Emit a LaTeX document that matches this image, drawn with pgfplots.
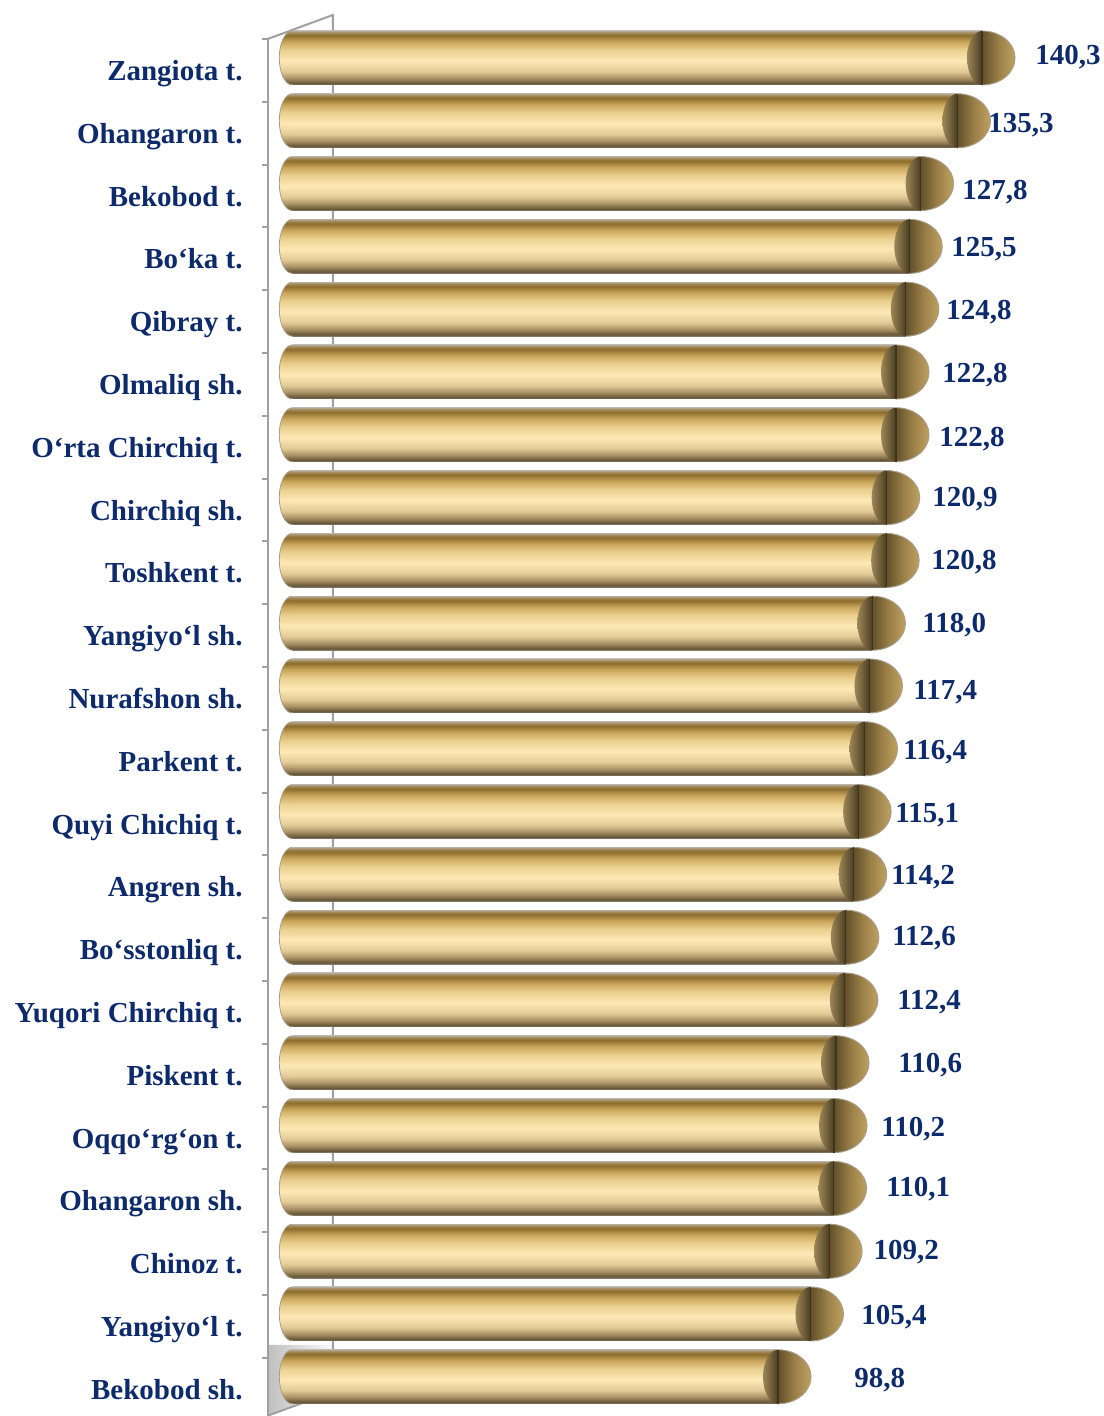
\documentclass[border=0pt]{standalone}
\usepackage{pgfplots}
\pgfplotsset{compat=1.18}
\usepackage{pgfplotstable}
\usepackage{fontspec}
\setmainfont{Liberation Serif}
\definecolor{navy}{HTML}{0D2B6B}
\definecolor{axgray}{HTML}{A0A0A0}
\definecolor{rimgray}{HTML}{A89E8A}
\definecolor{g0}{HTML}{8A8070}
\definecolor{g1}{HTML}{655637}
\definecolor{g2}{HTML}{A58E62}
\definecolor{g3}{HTML}{E2CA96}
\definecolor{g4}{HTML}{FDE9B6}
\definecolor{g5}{HTML}{EACF8E}
\definecolor{g6}{HTML}{CAA65C}
\definecolor{g7}{HTML}{8D6D2C}
\definecolor{g8}{HTML}{A48A5A}
\definecolor{g9}{HTML}{B4AA96}
\definecolor{cr1}{HTML}{9C8656}
\definecolor{cr2}{HTML}{4A3E22}
\definecolor{fc1}{HTML}{62502A}
\definecolor{fc2}{HTML}{9A7F47}
\definecolor{fc3}{HTML}{BFA060}
\definecolor{dkline}{HTML}{3E3420}
\pgfdeclareverticalshading{goldbar}{100bp}{color(0bp)=(g0); color(25bp)=(g0); color(26.5bp)=(g1); color(31bp)=(g2); color(37.5bp)=(g3); color(47.5bp)=(g4); color(57.5bp)=(g5); color(65bp)=(g6); color(71bp)=(g7); color(73.5bp)=(g8); color(75bp)=(g9); color(100bp)=(g9)}
\pgfdeclarehorizontalshading{cresc}{100bp}{color(0bp)=(cr1); color(25bp)=(cr1); color(75bp)=(cr2); color(100bp)=(cr2)}
\pgfdeclarehorizontalshading{face}{100bp}{color(0bp)=(fc1); color(25bp)=(fc1); color(50bp)=(fc2); color(75bp)=(fc3); color(100bp)=(fc3)}
\pgfdeclareplotmark{capL}{%
  \pgfscope
  \pgfpathmoveto{\pgfqpoint{0pt}{13.5pt}}%
  \pgfpatharc{90}{270}{6.5pt and 13.5pt}%
  \pgfpathclose
  \pgfshadepath{goldbar}{0}%
  \pgfusepath{}%
  \endpgfscope
  \pgfscope
  \pgfsetstrokecolor{rimgray}\pgfsetlinewidth{0.4pt}%
  \pgfpathmoveto{\pgfqpoint{0pt}{13.5pt}}%
  \pgfpatharc{90}{270}{6.5pt and 13.5pt}%
  \pgfusepath{stroke}%
  \endpgfscope
}
\pgfdeclareplotmark{capR}{%
  \pgfscope
  \pgfpathmoveto{\pgfqpoint{0pt}{13.5pt}}%
  \pgfpatharc{90}{270}{7.5pt and 13.5pt}%
  \pgfpathclose
  \pgfshadepath{cresc}{0}%
  \pgfusepath{}%
  \endpgfscope
  \pgfscope
  \pgfpathmoveto{\pgfqpoint{0pt}{-13.5pt}}%
  \pgfpatharc{-90}{90}{16.5pt and 13.5pt}%
  \pgfpathclose
  \pgfshadepath{face}{0}%
  \pgfusepath{}%
  \endpgfscope
  \pgfscope
  \pgfsetstrokecolor{rimgray}\pgfsetlinewidth{0.5pt}%
  \pgfpathmoveto{\pgfqpoint{0pt}{-13.5pt}}%
  \pgfpatharc{-90}{90}{16.5pt and 13.5pt}%
  \pgfusepath{stroke}%
  \pgfsetstrokecolor{dkline}\pgfsetlinewidth{0.6pt}%
  \pgfpathmoveto{\pgfqpoint{0pt}{-13.5pt}}%
  \pgfpathlineto{\pgfqpoint{0pt}{13.5pt}}%
  \pgfusepath{stroke}%
  \endpgfscope
}
\pgfplotstableread{
i v dx dy
0 140.3 26.5 -3.4
1 135.3 15.3 -6.0
2 127.8 20.7 -8.1
3 125.5 20.8 -5.2
4 124.8 20.1 -5.3
5 122.8 23.0 -5.4
6 122.8 21.5 -6.0
7 120.9 22.7 -4.6
8 120.8 22.4 -4.7
9 118.0 24.8 -4.8
10 117.4 21.8 -6.9
11 116.4 19.2 -5.5
12 115.1 18.4 -5.6
13 114.2 18.6 -5.2
14 112.6 23.0 -4.3
15 112.4 26.0 -4.9
16 110.6 31.0 -5.0
17 110.2 23.5 -5.6
18 110.1 26.2 -4.2
19 109.2 22.0 -4.3
20 105.4 25.3 -5.4
21 98.8 38.0 -5.5
}\data
\begin{document}
\begin{tikzpicture}
\begin{axis}[
  set layers,
  at={(0,0)}, anchor=south west,
  scale only axis,
  width=393.3pt, height=690.8pt,
  xmin=-5, xmax=155,
  ymin=-0.3025, ymax=21.6975,
  y dir=reverse,
  clip=false,
  axis x line=none,
  axis y line=left,
  y axis line style={-, draw=axgray, line width=1.1pt},
  ytick={0,...,21},
  yticklabels={Zangiota t., Ohangaron t., Bekobod t., Bo‘ka t., Qibray t., Olmaliq sh., O‘rta Chirchiq t., Chirchiq sh., Toshkent t., Yangiyo‘l sh., Nurafshon sh., Parkent t., Quyi Chichiq t., Angren sh., Bo‘sstonliq t., Yuqori Chirchiq t., Piskent t., Oqqo‘rg‘on t., Ohangaron sh., Chinoz t., Yangiyo‘l t., Bekobod sh.},
  minor ytick={-0.3025,0.6975,...,21.7},
  tick align=outside,
  major tick length=0pt,
  minor tick length=3pt,
  minor tick style={draw=axgray, line width=1pt},
  yticklabel style={anchor=base east, inner sep=0pt, xshift=-12.35pt, yshift=-11.25pt,
    font=\bfseries\fontsize{14.5}{17}\selectfont, text=navy},
  /pgf/number format/assume math mode=true,
]
\begin{pgfonlayer}{axis background}
  \shade[left color=gray!50, right color=gray!4] (axis cs:-5,20.49) -- (axis cs:8.28,20.49) -- (axis cs:8.28,21.24) -- (axis cs:-5,21.62) -- cycle;
  \draw[axgray, line width=1pt] (axis cs:-5,-0.3025) -- (axis cs:8.28,-0.685) -- (axis cs:8.28,21.24) -- (axis cs:-5,21.62);
\end{pgfonlayer}
\addplot[only marks, mark=capL] table[x expr=0, y=i]{\data};
\pgfplotsinvokeforeach{0,...,21}{%
  \addplot[xbar, bar width=27pt, draw=none, shade, shading=goldbar,
    restrict expr to domain={\thisrow{i}}{#1:#1}] table[x=v, y=i]{\data};
}
\addplot[only marks, mark=capR,
  point meta=x,
  visualization depends on={\thisrow{dx}\as\dx},
  visualization depends on={\thisrow{dy}\as\dy},
  nodes near coords={\pgfmathprintnumber[fixed,fixed zerofill,precision=1,use comma]{\pgfplotspointmeta}},
  nodes near coords style={anchor=base west, inner sep=0pt, xshift=\dx pt, yshift=\dy pt,
    font=\bfseries\fontsize{14.5}{17}\selectfont, text=navy}
] table[x=v, y=i]{\data};
\end{axis}
\pgfresetboundingbox
\path[use as bounding box] (-133.85pt,2.3pt) rectangle (417.65pt,710.3pt);
\end{tikzpicture}
\end{document}
